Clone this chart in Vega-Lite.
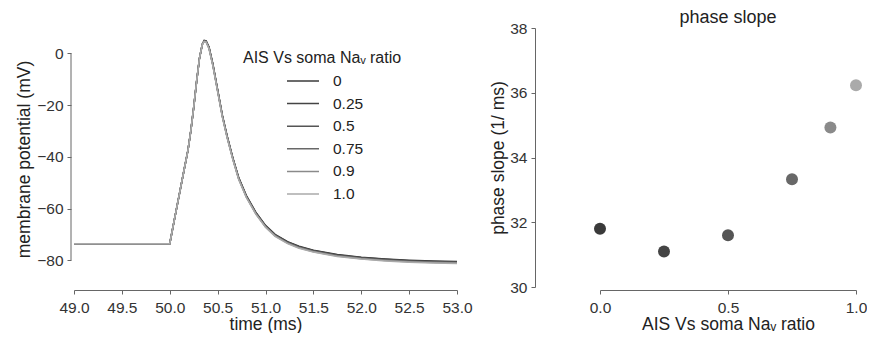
{
  "$schema": "https://vega.github.io/schema/vega-lite/v6.json",
  "padding": {"left": 15, "top": 9, "right": 0, "bottom": 0},
  "background": "white",
  "config": {
    "view": {"stroke": null},
    "font": "Liberation Sans",
    "axis": {"grid": false, "labelFontSize": 15.5, "titleFontSize": 17.5, "titleFontWeight": "normal", "labelColor": "#333", "titleColor": "#222", "domainColor": "#666", "tickColor": "#666", "tickSize": 4, "labelPadding": 4, "labelFlush": false}
  },
  "datasets": {
    "trace": [
      {"t":49.0,"v":-73.6,"r":"0"},{"t":50.0,"v":-73.6,"r":"0"},{"t":50.05,"v":-64,"r":"0"},{"t":50.1,"v":-54.5,"r":"0"},{"t":50.15,"v":-45,"r":"0"},{"t":50.19,"v":-37.5,"r":"0"},{"t":50.22,"v":-30,"r":"0"},{"t":50.25,"v":-21,"r":"0"},{"t":50.28,"v":-11,"r":"0"},{"t":50.31,"v":-2,"r":"0"},{"t":50.34,"v":3.5,"r":"0"},{"t":50.36,"v":5.0,"r":"0"},{"t":50.38,"v":4.8,"r":"0"},
      {"t":50.41,"v":2.5,"r":"0"},{"t":50.45,"v":-4,"r":"0"},{"t":50.5,"v":-14,"r":"0"},{"t":50.55,"v":-24,"r":"0"},{"t":50.6,"v":-32,"r":"0"},{"t":50.66,"v":-40.5,"r":"0"},{"t":50.72,"v":-48,"r":"0"},{"t":50.8,"v":-55,"r":"0"},{"t":50.9,"v":-61.5,"r":"0"},{"t":51.0,"v":-66.5,"r":"0"},{"t":51.1,"v":-70,"r":"0"},{"t":51.23,"v":-72.8,"r":"0"},{"t":51.35,"v":-74.6,"r":"0"},{"t":51.5,"v":-76.1,"r":"0"},{"t":51.75,"v":-77.8,"r":"0"},{"t":52.0,"v":-78.8,"r":"0"},{"t":52.25,"v":-79.5,"r":"0"},{"t":52.5,"v":-80.0,"r":"0"},{"t":52.75,"v":-80.3,"r":"0"},{"t":53.0,"v":-80.5,"r":"0"},

      {"t":49.0,"v":-73.6,"r":"0.25"},{"t":50.0,"v":-73.6,"r":"0.25"},{"t":50.05,"v":-64,"r":"0.25"},{"t":50.1,"v":-54.5,"r":"0.25"},{"t":50.15,"v":-45,"r":"0.25"},{"t":50.19,"v":-37.5,"r":"0.25"},{"t":50.22,"v":-30,"r":"0.25"},{"t":50.25,"v":-21,"r":"0.25"},{"t":50.28,"v":-11,"r":"0.25"},{"t":50.31,"v":-2,"r":"0.25"},{"t":50.34,"v":3.5,"r":"0.25"},{"t":50.36,"v":4.9,"r":"0.25"},{"t":50.38,"v":4.7,"r":"0.25"},
      {"t":50.41,"v":2.35,"r":"0.25"},{"t":50.45,"v":-4.15,"r":"0.25"},{"t":50.5,"v":-14.15,"r":"0.25"},{"t":50.55,"v":-24.15,"r":"0.25"},{"t":50.6,"v":-32.15,"r":"0.25"},{"t":50.66,"v":-40.65,"r":"0.25"},{"t":50.72,"v":-48.15,"r":"0.25"},{"t":50.8,"v":-55.15,"r":"0.25"},{"t":50.9,"v":-61.65,"r":"0.25"},{"t":51.0,"v":-66.65,"r":"0.25"},{"t":51.1,"v":-70.15,"r":"0.25"},{"t":51.23,"v":-72.95,"r":"0.25"},{"t":51.35,"v":-74.75,"r":"0.25"},{"t":51.5,"v":-76.25,"r":"0.25"},{"t":51.75,"v":-77.95,"r":"0.25"},{"t":52.0,"v":-78.95,"r":"0.25"},{"t":52.25,"v":-79.65,"r":"0.25"},{"t":52.5,"v":-80.15,"r":"0.25"},{"t":52.75,"v":-80.45,"r":"0.25"},{"t":53.0,"v":-80.65,"r":"0.25"},

      {"t":49.0,"v":-73.6,"r":"0.5"},{"t":50.0,"v":-73.6,"r":"0.5"},{"t":50.05,"v":-64,"r":"0.5"},{"t":50.1,"v":-54.5,"r":"0.5"},{"t":50.15,"v":-45,"r":"0.5"},{"t":50.19,"v":-37.5,"r":"0.5"},{"t":50.22,"v":-30,"r":"0.5"},{"t":50.25,"v":-21,"r":"0.5"},{"t":50.28,"v":-11,"r":"0.5"},{"t":50.31,"v":-2,"r":"0.5"},{"t":50.34,"v":3.5,"r":"0.5"},{"t":50.36,"v":4.8,"r":"0.5"},{"t":50.38,"v":4.6,"r":"0.5"},
      {"t":50.41,"v":2.2,"r":"0.5"},{"t":50.45,"v":-4.3,"r":"0.5"},{"t":50.5,"v":-14.3,"r":"0.5"},{"t":50.55,"v":-24.3,"r":"0.5"},{"t":50.6,"v":-32.3,"r":"0.5"},{"t":50.66,"v":-40.8,"r":"0.5"},{"t":50.72,"v":-48.3,"r":"0.5"},{"t":50.8,"v":-55.3,"r":"0.5"},{"t":50.9,"v":-61.8,"r":"0.5"},{"t":51.0,"v":-66.8,"r":"0.5"},{"t":51.1,"v":-70.3,"r":"0.5"},{"t":51.23,"v":-73.1,"r":"0.5"},{"t":51.35,"v":-74.9,"r":"0.5"},{"t":51.5,"v":-76.4,"r":"0.5"},{"t":51.75,"v":-78.1,"r":"0.5"},{"t":52.0,"v":-79.1,"r":"0.5"},{"t":52.25,"v":-79.8,"r":"0.5"},{"t":52.5,"v":-80.3,"r":"0.5"},{"t":52.75,"v":-80.6,"r":"0.5"},{"t":53.0,"v":-80.8,"r":"0.5"},

      {"t":49.0,"v":-73.6,"r":"0.75"},{"t":50.0,"v":-73.6,"r":"0.75"},{"t":50.05,"v":-64,"r":"0.75"},{"t":50.1,"v":-54.5,"r":"0.75"},{"t":50.15,"v":-45,"r":"0.75"},{"t":50.19,"v":-37.5,"r":"0.75"},{"t":50.22,"v":-30,"r":"0.75"},{"t":50.25,"v":-21,"r":"0.75"},{"t":50.28,"v":-11,"r":"0.75"},{"t":50.31,"v":-2,"r":"0.75"},{"t":50.34,"v":3.5,"r":"0.75"},{"t":50.36,"v":4.7,"r":"0.75"},{"t":50.38,"v":4.5,"r":"0.75"},
      {"t":50.41,"v":2.05,"r":"0.75"},{"t":50.45,"v":-4.45,"r":"0.75"},{"t":50.5,"v":-14.45,"r":"0.75"},{"t":50.55,"v":-24.45,"r":"0.75"},{"t":50.6,"v":-32.45,"r":"0.75"},{"t":50.66,"v":-40.95,"r":"0.75"},{"t":50.72,"v":-48.45,"r":"0.75"},{"t":50.8,"v":-55.45,"r":"0.75"},{"t":50.9,"v":-61.95,"r":"0.75"},{"t":51.0,"v":-66.95,"r":"0.75"},{"t":51.1,"v":-70.45,"r":"0.75"},{"t":51.23,"v":-73.25,"r":"0.75"},{"t":51.35,"v":-75.05,"r":"0.75"},{"t":51.5,"v":-76.55,"r":"0.75"},{"t":51.75,"v":-78.25,"r":"0.75"},{"t":52.0,"v":-79.25,"r":"0.75"},{"t":52.25,"v":-79.95,"r":"0.75"},{"t":52.5,"v":-80.45,"r":"0.75"},{"t":52.75,"v":-80.75,"r":"0.75"},{"t":53.0,"v":-80.95,"r":"0.75"},

      {"t":49.0,"v":-73.6,"r":"0.9"},{"t":50.0,"v":-73.6,"r":"0.9"},{"t":50.05,"v":-64,"r":"0.9"},{"t":50.1,"v":-54.5,"r":"0.9"},{"t":50.15,"v":-45,"r":"0.9"},{"t":50.19,"v":-37.5,"r":"0.9"},{"t":50.22,"v":-30,"r":"0.9"},{"t":50.25,"v":-21,"r":"0.9"},{"t":50.28,"v":-11,"r":"0.9"},{"t":50.31,"v":-2,"r":"0.9"},{"t":50.34,"v":3.5,"r":"0.9"},{"t":50.36,"v":4.6,"r":"0.9"},{"t":50.38,"v":4.4,"r":"0.9"},
      {"t":50.41,"v":1.9,"r":"0.9"},{"t":50.45,"v":-4.6,"r":"0.9"},{"t":50.5,"v":-14.6,"r":"0.9"},{"t":50.55,"v":-24.6,"r":"0.9"},{"t":50.6,"v":-32.6,"r":"0.9"},{"t":50.66,"v":-41.1,"r":"0.9"},{"t":50.72,"v":-48.6,"r":"0.9"},{"t":50.8,"v":-55.6,"r":"0.9"},{"t":50.9,"v":-62.1,"r":"0.9"},{"t":51.0,"v":-67.1,"r":"0.9"},{"t":51.1,"v":-70.6,"r":"0.9"},{"t":51.23,"v":-73.4,"r":"0.9"},{"t":51.35,"v":-75.2,"r":"0.9"},{"t":51.5,"v":-76.7,"r":"0.9"},{"t":51.75,"v":-78.4,"r":"0.9"},{"t":52.0,"v":-79.4,"r":"0.9"},{"t":52.25,"v":-80.1,"r":"0.9"},{"t":52.5,"v":-80.6,"r":"0.9"},{"t":52.75,"v":-80.9,"r":"0.9"},{"t":53.0,"v":-81.1,"r":"0.9"},

      {"t":49.0,"v":-73.6,"r":"1.0"},{"t":50.0,"v":-73.6,"r":"1.0"},{"t":50.05,"v":-64,"r":"1.0"},{"t":50.1,"v":-54.5,"r":"1.0"},{"t":50.15,"v":-45,"r":"1.0"},{"t":50.19,"v":-37.5,"r":"1.0"},{"t":50.22,"v":-30,"r":"1.0"},{"t":50.25,"v":-21,"r":"1.0"},{"t":50.28,"v":-11,"r":"1.0"},{"t":50.31,"v":-2,"r":"1.0"},{"t":50.34,"v":3.5,"r":"1.0"},{"t":50.36,"v":4.5,"r":"1.0"},{"t":50.38,"v":4.3,"r":"1.0"},
      {"t":50.41,"v":1.75,"r":"1.0"},{"t":50.45,"v":-4.75,"r":"1.0"},{"t":50.5,"v":-14.75,"r":"1.0"},{"t":50.55,"v":-24.75,"r":"1.0"},{"t":50.6,"v":-32.75,"r":"1.0"},{"t":50.66,"v":-41.25,"r":"1.0"},{"t":50.72,"v":-48.75,"r":"1.0"},{"t":50.8,"v":-55.75,"r":"1.0"},{"t":50.9,"v":-62.25,"r":"1.0"},{"t":51.0,"v":-67.25,"r":"1.0"},{"t":51.1,"v":-70.75,"r":"1.0"},{"t":51.23,"v":-73.55,"r":"1.0"},{"t":51.35,"v":-75.35,"r":"1.0"},{"t":51.5,"v":-76.85,"r":"1.0"},{"t":51.75,"v":-78.55,"r":"1.0"},{"t":52.0,"v":-79.55,"r":"1.0"},{"t":52.25,"v":-80.25,"r":"1.0"},{"t":52.5,"v":-80.75,"r":"1.0"},{"t":52.75,"v":-81.05,"r":"1.0"},{"t":53.0,"v":-81.25,"r":"1.0"}
    ],
    "slope": [
      {"ratio":0,"slope":31.8,"r":"0"},
      {"ratio":0.25,"slope":31.1,"r":"0.25"},
      {"ratio":0.5,"slope":31.6,"r":"0.5"},
      {"ratio":0.75,"slope":33.33,"r":"0.75"},
      {"ratio":0.9,"slope":34.93,"r":"0.9"},
      {"ratio":1.0,"slope":36.23,"r":"1.0"}
    ]
  },
  "spacing": 16,
  "resolve": {"scale": {"color": "independent"}, "legend": {"color": "independent"}},
  "hconcat": [
    {
      "width": 383,
      "height": 262,
      "layer": [
        {
          "data": {"values": [{}]},
          "mark": {"type": "rule", "xOffset": -3, "color": "#666", "strokeWidth": 1},
          "encoding": {
            "x": {"datum": 49, "type": "quantitative"},
            "y": {"datum": 0, "type": "quantitative"},
            "y2": {"datum": -80}
          }
        },
        {
          "data": {"name": "trace"},
          "mark": {"type": "line", "strokeWidth": 1.5},
          "encoding": {
            "x": {"field": "t", "type": "quantitative", "scale": {"domain": [49, 53], "nice": false, "zero": false},
                  "axis": {"values": [49, 49.5, 50, 50.5, 51, 51.5, 52, 52.5, 53], "format": ".1f", "title": "time (ms)", "labelPadding": 6, "titlePadding": 0}},
            "y": {"field": "v", "type": "quantitative", "scale": {"domain": [-91.5, 9.8], "nice": false, "zero": false},
                  "axis": {"values": [-80, -60, -40, -20, 0], "domain": false, "offset": 3, "title": "membrane potential (mV)", "titlePadding": 3}},
            "color": {"field": "r", "type": "nominal",
                      "scale": {"domain": ["0", "0.25", "0.5", "0.75", "0.9", "1.0"], "range": ["#3a3a3a", "#444444", "#555555", "#686868", "#8a8a8a", "#aaaaaa"]},
                      "legend": {"title": "AIS Vs soma Naᵥ ratio", "orient": "none", "legendX": 169, "legendY": 22,
                                 "symbolType": "stroke", "symbolSize": 1024, "symbolStrokeWidth": 1.5, "clipHeight": 16, "rowPadding": 5.6,
                                 "labelOffset": 13, "symbolOffset": 43, "titleFontSize": 16, "labelFontSize": 15.5, "titleFontWeight": "normal",
                                 "titlePadding": 7, "labelColor": "#222", "titleColor": "#222"}}
          }
        }
      ]
    },
    {
      "width": 256,
      "height": 259,
      "data": {"name": "slope"},
      "title": {"text": "phase slope", "fontSize": 18, "fontWeight": "normal", "color": "#222", "offset": -6},
      "mark": {"type": "circle", "size": 144, "opacity": 1},
      "encoding": {
        "x": {"field": "ratio", "type": "quantitative", "scale": {"domain": [0, 1], "nice": false},
              "axis": {"values": [0, 0.5, 1], "format": ".1f", "title": "AIS Vs soma Naᵥ ratio", "offset": 3, "labelPadding": 6, "titlePadding": 0}},
        "y": {"field": "slope", "type": "quantitative", "scale": {"domain": [30, 38], "nice": false, "zero": false},
              "axis": {"values": [30, 32, 34, 36, 38], "title": "phase slope (1/ ms)", "offset": 65, "titlePadding": 2}},
        "color": {"field": "r", "type": "nominal",
                  "scale": {"domain": ["0", "0.25", "0.5", "0.75", "0.9", "1.0"], "range": ["#3a3a3a", "#444444", "#555555", "#686868", "#8a8a8a", "#aaaaaa"]},
                  "legend": null}
      }
    }
  ]
}
